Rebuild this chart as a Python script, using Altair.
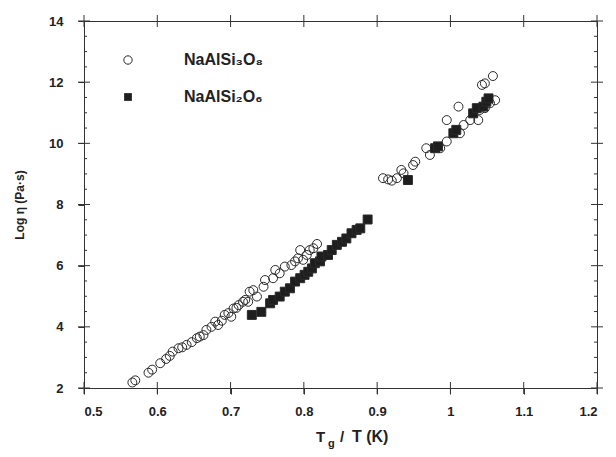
import altair as alt
import pandas as pd

# NaAlSi3O8 (open circles)
alb_x = [0.566, 0.570, 0.588, 0.593, 0.604, 0.612, 0.617, 0.621, 0.629, 0.634, 0.640, 0.647,
         0.654, 0.658, 0.663, 0.667, 0.674, 0.679, 0.683, 0.688, 0.692, 0.697, 0.701, 0.704,
         0.708, 0.711, 0.717, 0.720, 0.724, 0.726, 0.731, 0.736, 0.745, 0.747, 0.758, 0.761,
         0.767, 0.774, 0.783, 0.788, 0.792, 0.795, 0.799, 0.804, 0.808, 0.813, 0.818,
         0.908, 0.915, 0.920, 0.927, 0.933, 0.936, 0.949, 0.952, 0.967, 0.972, 0.986, 0.995,
         0.995, 1.011, 1.013, 1.018, 1.027, 1.038, 1.040, 1.043, 1.047, 1.047, 1.054, 1.058, 1.061]
alb_y = [2.18, 2.25, 2.50, 2.60, 2.81, 2.95, 3.05, 3.19, 3.30, 3.33, 3.41, 3.50,
         3.63, 3.68, 3.73, 3.90, 4.00, 4.17, 4.06, 4.20, 4.39, 4.45, 4.33, 4.60,
         4.62, 4.71, 4.82, 4.88, 4.82, 5.15, 5.20, 4.99, 5.31, 5.53, 5.59, 5.86,
         5.75, 5.97, 6.02, 6.14, 6.24, 6.51, 6.19, 6.35, 6.51, 6.57, 6.71,
         8.86, 8.82, 8.78, 8.86, 9.13, 9.02, 9.29, 9.40, 9.84, 9.62, 9.84, 10.06,
         10.76, 11.20, 10.33, 10.60, 10.76, 10.76, 11.09, 11.91, 11.96, 11.15, 11.31, 12.20, 11.41]

# NaAlSi2O6 (filled squares)
jd_x = [0.729, 0.742, 0.754, 0.758, 0.767, 0.774, 0.781, 0.788, 0.795, 0.801, 0.806, 0.811,
        0.815, 0.822, 0.824, 0.833, 0.838, 0.845, 0.852, 0.858, 0.865, 0.872, 0.877, 0.887,
        0.942, 0.979, 0.983, 1.004, 1.008, 1.031, 1.036, 1.045, 1.049, 1.052]
jd_y = [4.39, 4.49, 4.77, 4.88, 4.99, 5.15, 5.26, 5.48, 5.59, 5.70, 5.80, 5.91,
        6.08, 6.14, 6.30, 6.35, 6.51, 6.68, 6.78, 6.89, 7.06, 7.17, 7.22, 7.51,
        8.80, 9.84, 9.90, 10.33, 10.44, 10.98, 11.15, 11.20, 11.36, 11.47]

S1 = "NaAlSi₃O₈"
S2 = "NaAlSi₂O₆"
x_ticks = [0.5, 0.6, 0.7, 0.8, 0.9, 1.0, 1.1, 1.2]
y_ticks = [2, 4, 6, 8, 10, 12, 14]
y_minor = [2.5, 3, 3.5, 4.5, 5, 5.5, 6.5, 7, 7.5, 8.5, 9, 9.5, 10.5, 11, 11.5, 12.5, 13, 13.5]

df = pd.DataFrame({
    "x": alb_x + jd_x,
    "y": alb_y + jd_y,
    "series": [S1] * len(alb_x) + [S2] * len(jd_x),
})
one = pd.DataFrame({"k": [0]})
xt = pd.DataFrame({"x": x_ticks})
yt = pd.DataFrame({"y": y_ticks})
ym = pd.DataFrame({"y": y_minor})

FONT = "Liberation Sans"
INK = "#333333"
W, H = 513, 367

xs = alt.Scale(domain=[0.5, 1.2], nice=False, zero=False)
ys = alt.Scale(domain=[2, 14], nice=False, zero=False)

lab = dict(labelFont=FONT, labelFontSize=13, labelFontWeight="bold", labelColor="#222",
           domain=False, grid=False, ticks=True, tickSize=6, tickColor=INK, tickWidth=1)
AX = alt.Axis(orient="bottom", values=x_ticks, format="~g", labelPadding=11, title=None, **lab)
AY = alt.Axis(orient="left", values=y_ticks, labelPadding=15,
              title="Log η (Pa·s)", titleFont=FONT, titleFontSize=12,
              titleFontWeight="bold", titleColor="#222", titlePadding=22, **lab)
X = alt.X("x:Q", scale=xs, axis=AX)
Y = alt.Y("y:Q", scale=ys, axis=AY)

dom = [S1, S2]
points = alt.Chart(df).mark_point(filled=False, strokeWidth=1, color="#2a2a2a", size=80,
                                  opacity=1).encode(
    x=X, y=Y,
    shape=alt.Shape("series:N", scale=alt.Scale(domain=dom, range=["circle", "square"]), legend=None),
    fill=alt.Fill("series:N", scale=alt.Scale(domain=dom, range=["transparent", "#1e1e1e"]), legend=None),
)

# tick marks crossing the frame, placed through the scales
rule = dict(color=INK, strokeWidth=1)
ticks_b = alt.Chart(xt).mark_rule(**rule).encode(x=X, y=alt.value(H - 6), y2=alt.value(H + 6))
ticks_t = alt.Chart(xt).mark_rule(**rule).encode(x=X, y=alt.value(-6), y2=alt.value(6))
ticks_l = alt.Chart(yt).mark_rule(**rule).encode(y=Y, x=alt.value(-6), x2=alt.value(6))
ticks_r = alt.Chart(yt).mark_rule(**rule).encode(y=Y, x=alt.value(W - 6), x2=alt.value(W + 6))
minor_l = alt.Chart(ym).mark_rule(**rule).encode(y=Y, x=alt.value(0), x2=alt.value(3))
minor_r = alt.Chart(ym).mark_rule(**rule).encode(y=Y, x=alt.value(W - 3), x2=alt.value(W))

# legend
leg_c = alt.Chart(one).mark_point(shape="circle", filled=False, color="#2a2a2a", strokeWidth=1,
                                  size=70, opacity=1).encode(x=alt.value(44), y=alt.value(39))
leg_s = alt.Chart(one).mark_point(shape="square", filled=True, color="#1e1e1e",
                                  size=60, opacity=1).encode(x=alt.value(44), y=alt.value(76))
lstyle = dict(font=FONT, fontWeight="bold", color="#222", align="left", baseline="alphabetic",
              fontSize=16)
leg_t1 = alt.Chart(one).mark_text(text=S1, **lstyle).encode(x=alt.value(100), y=alt.value(44))
leg_t2 = alt.Chart(one).mark_text(text=S2, **lstyle).encode(x=alt.value(100), y=alt.value(81))

# x-axis title with subscript
tstyle = dict(font=FONT, fontWeight="bold", color="#222", align="left", baseline="alphabetic")
t1 = alt.Chart(one).mark_text(text="T", fontSize=15, **tstyle).encode(
    x=alt.value(232), y=alt.value(421))
t2 = alt.Chart(one).mark_text(text="g", fontSize=11, **tstyle).encode(
    x=alt.value(244), y=alt.value(426))
t3 = alt.Chart(one).mark_text(text="/", fontSize=15, **tstyle).encode(
    x=alt.value(256), y=alt.value(421))
t4 = alt.Chart(one).mark_text(text="T (K)", fontSize=16, **tstyle).encode(
    x=alt.value(268), y=alt.value(421))

chart = alt.layer(points, ticks_b, ticks_t, ticks_l, ticks_r, minor_l, minor_r,
                  leg_c, leg_s, leg_t1, leg_t2, t1, t2, t3, t4).properties(
    width=W, height=H,
    autosize=alt.AutoSizeParams(type="none"),
    padding={"left": 76, "top": 13, "right": 10, "bottom": 66},
).configure_view(stroke=INK, strokeWidth=1)

chart.save("out.html", embed_options={"renderer": "svg", "actions": False})
